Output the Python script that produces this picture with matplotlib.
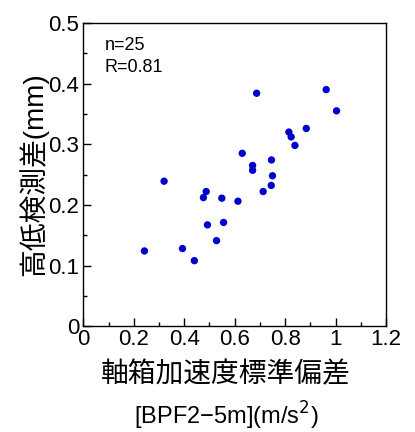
import numpy as np
import matplotlib
matplotlib.use('Agg')
import matplotlib.pyplot as plt
from matplotlib.ticker import MultipleLocator, FuncFormatter

plt.rcParams['font.family'] = ['Liberation Sans', 'Noto Sans CJK JP', 'DejaVu Sans']

# 軸箱加速度標準偏差 [BPF2-5m] (m/s^2)
accel_std = [0.242, 0.320, 0.393, 0.440, 0.476, 0.487, 0.492, 0.528, 0.549,
             0.556, 0.613, 0.630, 0.671, 0.671, 0.687, 0.713, 0.745, 0.746,
             0.750, 0.815, 0.824, 0.839, 0.884, 0.963, 1.004]
# 高低検測差 (mm)
level_diff = [0.124, 0.239, 0.128, 0.108, 0.212, 0.222, 0.167, 0.141, 0.211,
              0.171, 0.206, 0.285, 0.265, 0.257, 0.384, 0.222, 0.232, 0.274,
              0.248, 0.320, 0.312, 0.298, 0.326, 0.390, 0.355]
stats_text = 'n=25\nR=0.81'

fig = plt.figure(figsize=(4.15, 4.32), dpi=100)
ax = fig.add_axes([0.201, 0.245, 0.729, 0.702])

ax.scatter(accel_std, level_diff, s=28, color='#0000CC', edgecolors='none', zorder=3)

ax.set_xlim(0, 1.2)
ax.set_ylim(0, 0.5)
ax.xaxis.set_major_locator(MultipleLocator(0.2))
ax.xaxis.set_minor_locator(MultipleLocator(0.1))
ax.yaxis.set_major_locator(MultipleLocator(0.1))
ax.yaxis.set_minor_locator(MultipleLocator(0.05))

fmt = FuncFormatter(lambda v, p: '0' if abs(v) < 1e-9 else ('%g' % round(v, 2)))
ax.xaxis.set_major_formatter(fmt)
ax.yaxis.set_major_formatter(fmt)

ax.tick_params(which='both', direction='in', top=False, right=False, labelsize=16)
ax.tick_params(which='major', length=5.8, width=1)
ax.tick_params(which='minor', length=2.9, width=1)
ax.tick_params(axis='x', pad=2)
ax.tick_params(axis='y', pad=3)
for sp in ax.spines.values():
    sp.set_linewidth(1)

ax.set_ylabel('高低検測差(mm)', fontsize=20, labelpad=0)
fig.text(0.545, 0.132, '軸箱加速度標準偏差', fontsize=20, ha='center', va='center')
fig.text(0.545, 0.018, '[BPF2\u22125m](m/s$^2$)', fontsize=17, ha='center', va='baseline')

ax.text(0.07, 0.955, stats_text, transform=ax.transAxes, fontsize=13,
        va='top', ha='left', linespacing=1.4)

fig.savefig('out.png', dpi=100)
